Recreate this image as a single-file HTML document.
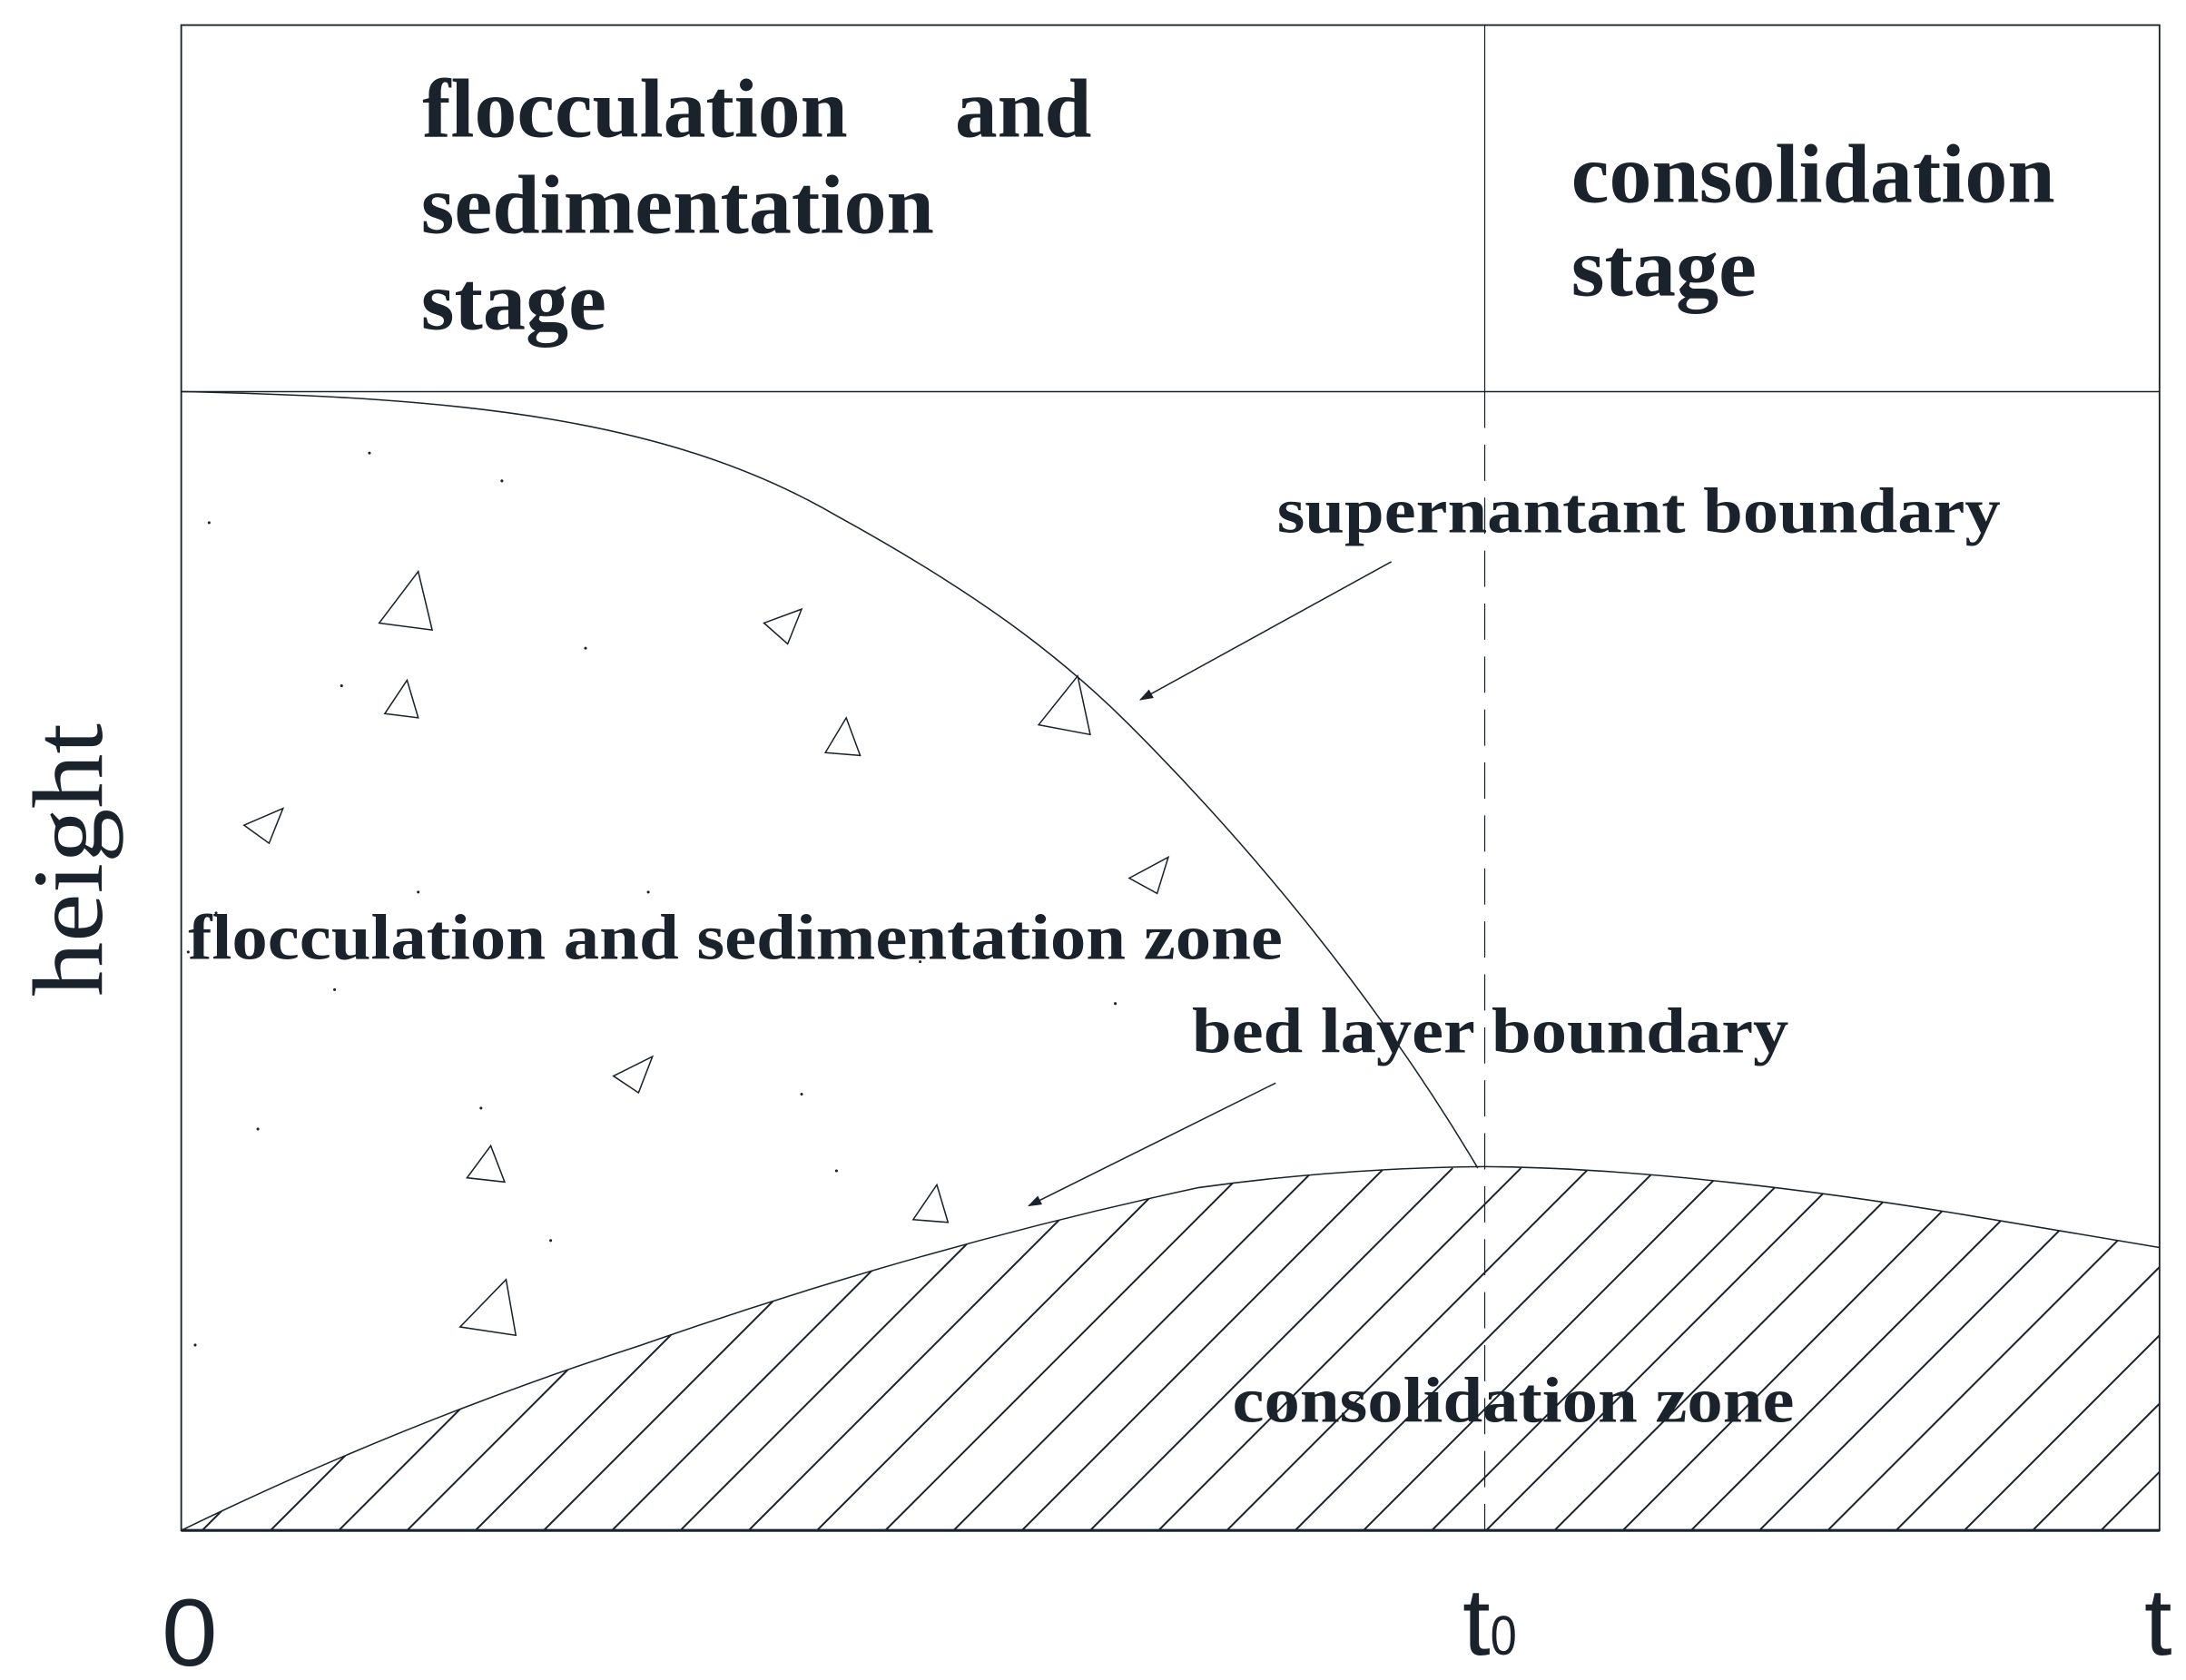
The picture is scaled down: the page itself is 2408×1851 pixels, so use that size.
<!DOCTYPE html>
<html><head><meta charset="utf-8"><style>html,body{margin:0;padding:0;background:#fff}svg{display:block}</style></head>
<body>
<svg width="2408" height="1851" viewBox="0 0 1568 1205.3" xmlns="http://www.w3.org/2000/svg">
<defs>
<clipPath id="bed"><path d="M130,1098 Q290,1020 460,965 Q660,895 860,852 Q960,838 1065,837 Q1200,838 1400,870 L1549,895 L1549,1098 Z"/></clipPath>
<marker id="ah" markerWidth="10" markerHeight="10" refX="9" refY="5" orient="auto" markerUnits="userSpaceOnUse"><path d="M0,1.5 L10,5 L0,8.5 Z" fill="#1a232b"/></marker>
</defs>
<rect width="1568" height="1206" fill="#fff"/>
<g clip-path="url(#bed)" stroke="#1a232b" stroke-width="1.3" fill="none">
<path d="
M-100,1098 L160,838 M-51,1098 L209,838 M-2,1098 L258,838 M47,1098 L307,838 M96,1098 L356,838 M145,1098 L405,838 M194,1098 L454,838 M243,1098 L503,838 M292,1098 L552,838 M341,1098 L601,838 M390,1098 L650,838 M439,1098 L699,838 M488,1098 L748,838 M537,1098 L797,838 M586,1098 L846,838 M635,1098 L895,838 M684,1098 L944,838 M733,1098 L993,838 M782,1098 L1042,838 M831,1098 L1091,838 M880,1098 L1140,838 M929,1098 L1189,838 M978,1098 L1238,838 M1027,1098 L1287,838 M1066,1098 L1326,838 M1115,1098 L1375,838 M1164,1098 L1424,838 M1213,1098 L1473,838 M1262,1098 L1522,838 M1311,1098 L1571,838 M1360,1098 L1620,838 M1409,1098 L1669,838 M1458,1098 L1718,838 M1507,1098 L1767,838"/>
</g>
<g fill="none" stroke="#1a232b">
<rect x="130" y="18" width="1419" height="1080" stroke-width="1.2"/>
<line x1="130" y1="281" x2="1549" y2="281" stroke-width="1"/>
<line x1="1065" y1="18" x2="1065" y2="281" stroke-width="0.8"/>
<line x1="1065" y1="281" x2="1065" y2="1098" stroke-width="0.8" stroke-dasharray="26,12"/>
<line x1="130" y1="1098" x2="1549" y2="1098" stroke-width="2"/>
<path d="M130,281 C330,285 480,300 600,370 C700,425 760,470 810,520 C900,610 990,720 1060,838" stroke-width="1"/>
<path d="M130,1098 Q290,1020 460,965 Q660,895 860,852 Q960,838 1065,837 Q1200,838 1400,870 L1549,895" stroke-width="1"/>
<line x1="998" y1="403" x2="818" y2="502" stroke-width="1" marker-end="url(#ah)"/>
<line x1="915" y1="777" x2="738" y2="865" stroke-width="1" marker-end="url(#ah)"/>
<g stroke-width="1">
<polygon points="272,447 310,452 300,410"/>
<polygon points="548,447 575,437 565,462"/>
<polygon points="276,512 300,515 292,488"/>
<polygon points="592,540 617,542 607,515"/>
<polygon points="745,520 782,527 773,485"/>
<polygon points="175,592 203,580 193,605"/>
<polygon points="810,630 838,615 830,641"/>
<polygon points="440,772 468,758 458,784"/>
<polygon points="335,845 362,848 352,822"/>
<polygon points="655,875 680,877 672,850"/>
<polygon points="330,952 370,958 363,918"/>
</g>
</g>
<g fill="#1a232b">
<circle cx="265" cy="325" r="1"/><circle cx="360" cy="345" r="1"/><circle cx="150" cy="375" r="1"/><circle cx="420" cy="465" r="1"/><circle cx="245" cy="492" r="1"/><circle cx="155" cy="655" r="1"/><circle cx="300" cy="640" r="1"/><circle cx="465" cy="640" r="1"/><circle cx="135" cy="683" r="1"/><circle cx="660" cy="690" r="1"/><circle cx="240" cy="710" r="1"/><circle cx="800" cy="720" r="1"/><circle cx="575" cy="785" r="1"/><circle cx="185" cy="810" r="1"/><circle cx="345" cy="795" r="1"/><circle cx="600" cy="840" r="1"/><circle cx="395" cy="890" r="1"/><circle cx="140" cy="965" r="1"/>
</g>
<g fill="#1a232b" font-family="'Liberation Serif', serif" font-weight="bold">
<text x="303" y="98" font-size="60" textLength="305" lengthAdjust="spacingAndGlyphs">flocculation</text>
<text x="685" y="98" font-size="60" textLength="98" lengthAdjust="spacingAndGlyphs">and</text>
<text x="302" y="167" font-size="60" textLength="368" lengthAdjust="spacingAndGlyphs">sedimentation</text>
<text x="302" y="236" font-size="60" textLength="133" lengthAdjust="spacingAndGlyphs">stage</text>
<text x="1127" y="145" font-size="60" textLength="347" lengthAdjust="spacingAndGlyphs">consolidation</text>
<text x="1127" y="212" font-size="60" textLength="133" lengthAdjust="spacingAndGlyphs">stage</text>
<text x="916" y="382" font-size="46" textLength="519" lengthAdjust="spacingAndGlyphs">supernantant boundary</text>
<text x="135" y="688" font-size="46" textLength="785" lengthAdjust="spacingAndGlyphs">flocculation and sedimentation zone</text>
<text x="855" y="755" font-size="46" textLength="428" lengthAdjust="spacingAndGlyphs">bed layer boundary</text>
<text x="884" y="1020" font-size="46" textLength="403" lengthAdjust="spacingAndGlyphs">consolidation zone</text>
</g>
<text transform="translate(73,715) rotate(-90)" fill="#1a232b" font-family="'Liberation Serif', serif" font-size="72" textLength="196" lengthAdjust="spacingAndGlyphs">height</text>
<g fill="#1a232b" font-family="'Liberation Sans', sans-serif">
<text x="116" y="1195" font-size="68" textLength="40" lengthAdjust="spacingAndGlyphs">0</text>
<text x="1049" y="1187" font-size="68" textLength="20" lengthAdjust="spacingAndGlyphs">t</text>
<text x="1069" y="1187" font-size="40" textLength="19" lengthAdjust="spacingAndGlyphs">0</text>
<text x="1538" y="1187" font-size="68" textLength="20" lengthAdjust="spacingAndGlyphs">t</text>
</g>
</svg>
</body></html>
